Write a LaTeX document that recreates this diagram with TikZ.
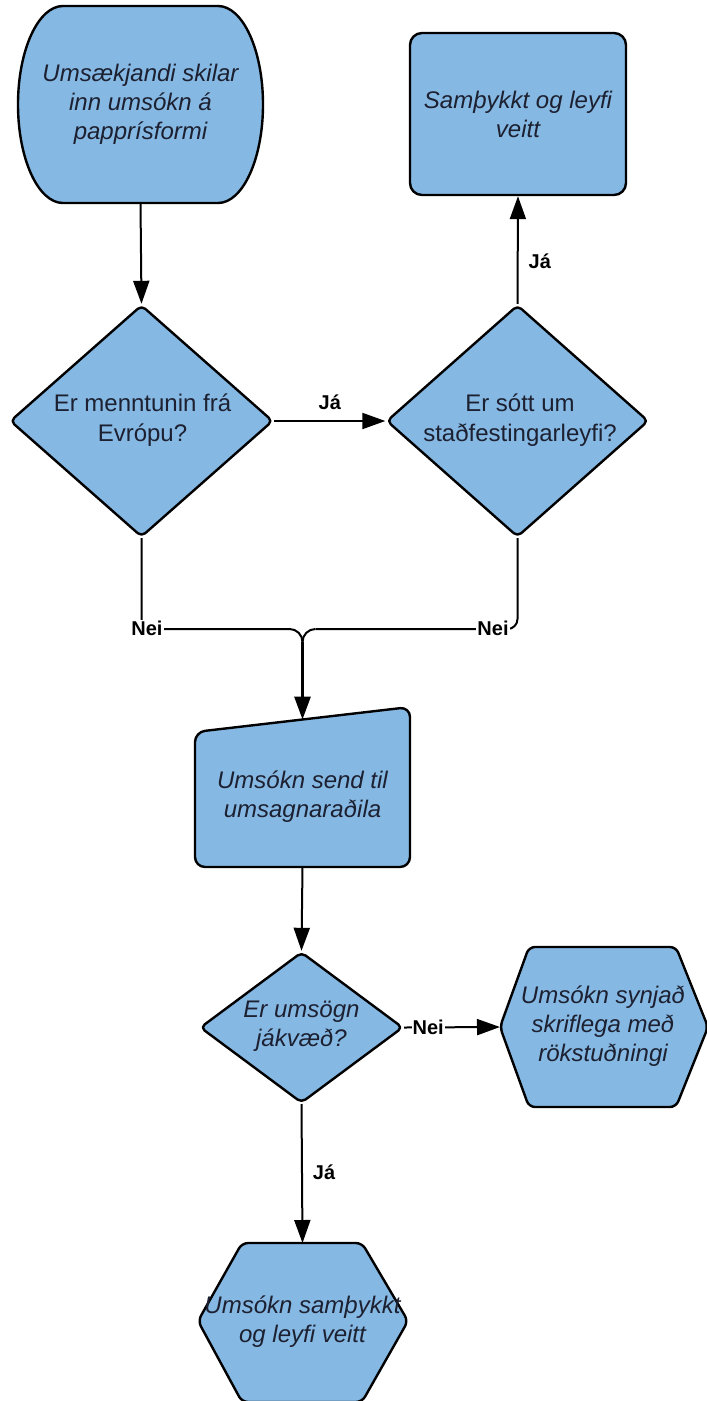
\documentclass[tikz,border=0pt]{standalone}
\usepackage{fontspec}
\setmainfont{Liberation Sans}
\usetikzlibrary{shapes.geometric,arrows.meta,calc}
\definecolor{fillb}{HTML}{85B8E3}
\definecolor{ink}{HTML}{1C2030}
\begin{document}
\begin{tikzpicture}[x=1pt,y=-1pt,
  shp/.style={fill=fillb, draw=black, line width=2.4pt, line join=round},
  box/.style={rectangle, inner sep=0pt, outer sep=0pt},
  txt/.style={text=ink, align=center, font=\fontsize{24}{29}\selectfont\itshape, inner sep=0pt},
  rtxt/.style={text=ink, align=center, font=\fontsize{24}{30}\selectfont, inner sep=0pt},
  lbl/.style={font=\fontsize{20}{20}\selectfont\bfseries, text=black, inner sep=1pt},
  ln/.style={line width=2pt},
  arr/.style={line width=2pt, -{Triangle[length=23pt,width=16pt]}}]
\useasboundingbox (0,0) rectangle (707,1401);

% start shape
\draw[shp] (63,6) -- (218,6) .. controls (242.8,6) and (263,50.1) .. (263,104.5)
  .. controls (263,158.9) and (242.8,203) .. (218,203) -- (63,203)
  .. controls (38.2,203) and (18,158.9) .. (18,104.5)
  .. controls (18,50.1) and (38.2,6) .. (63,6) -- cycle;
\node[box, txt, minimum width=245pt, minimum height=197pt] (start) at (140.5,104.5)
  {Umsækjandi skilar\\inn umsókn á\\papprísformi};

% top right box
\node[shp, rounded corners=12pt, minimum width=216pt, minimum height=162pt, txt] (ok) at (518,114)
  {Samþykkt og leyfi\\veitt};

% diamonds
\node[shp, diamond, minimum width=263pt, minimum height=232pt, inner sep=0pt, rounded corners=5pt] (d1) at (141.5,421) {};
\node[rtxt] (d1t) at (142.5,420) {Er menntunin frá\\Evrópu?};
\node[shp, diamond, minimum width=262pt, minimum height=232pt, inner sep=0pt, rounded corners=5pt] (d2) at (517.5,421) {};
\node[rtxt] (d2t) at (520,420) {Er sótt um\\staðfestingarleyfi?};

% manual input
\draw[shp, rounded corners=10pt] (195,732) -- (410,707) -- (410,867) -- (195,867) -- cycle;
\node[box, txt, minimum width=215pt, minimum height=140pt] (send) at (302.5,797)
  {Umsókn send til\\umsagnaraðila};
\coordinate (sendtop) at (302.5,719.5);

% diamond 3
\node[shp, diamond, minimum width=203pt, minimum height=151pt, inner sep=0pt, rounded corners=5pt] (d3) at (301.5,1027.5) {};
\node[txt] (d3t) at (301.5,1026) {Er umsögn\\jákvæð?};

% right hexagon
\draw[shp, rounded corners=6pt] (500,1027) -- (529,947) -- (676,947) -- (708,1027) -- (676,1107) -- (529,1107) -- cycle;
\node[box, txt, minimum width=205pt, minimum height=160pt] (rej) at (603,1026)
  {Umsókn synjað\\skriflega með\\rökstuðningi};
\coordinate (rejw) at (500,1027);

% bottom hexagon
\draw[shp, rounded corners=6pt] (198,1321) -- (242,1243) -- (362,1243) -- (408,1321) -- (362,1402) -- (242,1402) -- cycle;
\node[box, txt, minimum width=210pt, minimum height=158pt] (acc) at (302.5,1322)
  {Umsókn samþykkt\\og leyfi veitt};

% connectors
\draw[arr] (start.south) -- (d1.north);
\draw[arr] (d1.east) -- node[lbl, midway, yshift=19pt] {Já} (d2.west);
\draw[arr] (d2.north) -- node[lbl, pos=0.4, right=9pt] {Já} (ok.south);

\coordinate (nl) at (141.5,629);
\coordinate (nr) at (517.5,629);
\coordinate (j) at (302.5,642);
\draw[ln] (d1.south) -- (nl) -- ($(j|-nl)+(-13,0)$) to[out=0,in=90] (j);
\draw[ln, rounded corners=10pt] (d2.south) -- (nr) -- ($(j|-nr)+(13,0)$);
\draw[ln] ($(j|-nr)+(13,0)$) to[out=180,in=90] (j);
\draw[arr, line width=3pt] (j) -- (sendtop);
\node[lbl, fill=white] (nei1) at (147,628) {Nei};
\node[lbl, fill=white] (nei2) at (493,628) {Nei};

\draw[arr] (send.south) -- (d3.north);
\draw[arr] (d3.east) -- node[lbl, fill=white, pos=0.25] {Nei} (rejw);
\draw[arr] (d3.south) -- node[lbl, pos=0.49, right=9pt] {Já} (acc.north);
\end{tikzpicture}
\end{document}
